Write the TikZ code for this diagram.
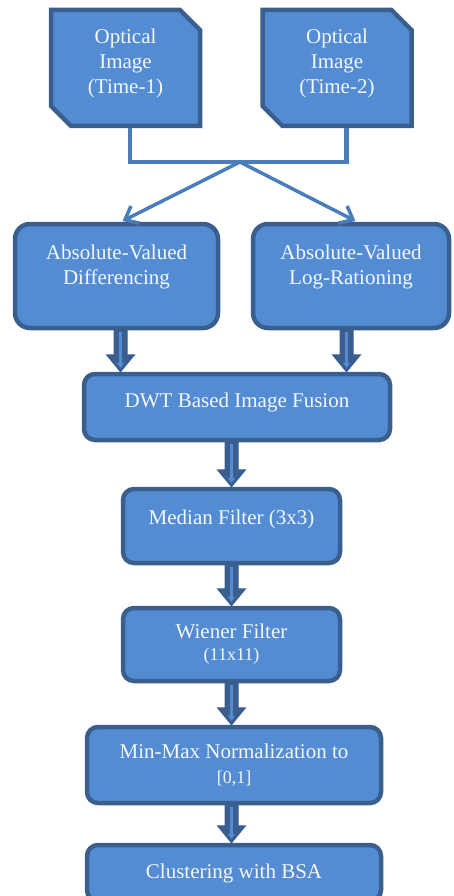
\documentclass[tikz,border=0pt]{standalone}
\usepackage{fontspec}
\setmainfont{Liberation Serif}
\usetikzlibrary{shapes.misc,arrows.meta,positioning,calc}
\definecolor{boxfill}{RGB}{83,140,211}
\definecolor{boxline}{RGB}{58,95,142}
\definecolor{linkcol}{RGB}{74,126,187}
\definecolor{txtcol}{RGB}{244,247,252}
\newcommand\subsize{\fontsize{18}{20}\selectfont}
\tikzset{
	box/.style = {
		draw=boxline,
		fill=boxfill,
		rectangle,
		line width=4.5pt,
		rounded corners=11pt,
		align=center,
		text=txtcol,
		inner sep=0pt,
		font=\fontsize{21}{25}\selectfont
	},
	optbox/.style = {
		box,
		rounded corners=0pt,
		chamfered rectangle,
		chamfered rectangle corners={north east,south west},
		chamfered rectangle xsep=10pt,
		chamfered rectangle ysep=10pt
	},
	link/.style = {
		draw=linkcol,
		line width=4.5pt
	},
	splitarrow/.style = {
		draw=linkcol,
		line width=3.5pt,
		line join=miter
	}
}
% fat arrow between two points on a vertical line: #1 start, #2 tip
\newcommand\fatarrow[2]{%
	\filldraw[boxline, line width=1pt, line join=miter]
	($(#1)+(-6.5,0)$) -- ($(#2)+(-6.5,17)$) -- ($(#2)+(-14,17)$) -- (#2)
	-- ($(#2)+(14,17)$) -- ($(#2)+(6.5,17)$) -- ($(#1)+(6.5,0)$) -- cycle;
	\draw[boxfill, line width=3.5pt, -{Triangle[length=5pt,width=7pt]}]
	($(#1)+(0,-2)$) -- ($(#2)+(0,4)$);
}
% open barbed arrow from #1 to #2
\newcommand\barbarrow[2]{%
	\draw[splitarrow] (#1) -- (#2);
	\draw[splitarrow] ($(#2)!15pt!40:(#1)$) -- (#2) -- ($(#2)!15pt!-40:(#1)$);
}

\begin{document}
\begin{tikzpicture}[x=1pt,y=1pt]
	
	\useasboundingbox (0,0) rectangle (454,-896);
	
	% --- Input images ---
	\node [optbox, minimum width=149, minimum height=116, text depth=14pt] (opt1) at (125.5,-68) {Optical\\Image\\(Time-1)};
	\node [optbox, minimum width=149, minimum height=116, text depth=14pt] (opt2) at (337,-68) {Optical\\Image\\(Time-2)};
	
	% --- Difference images ---
	\node [box, rounded corners=15pt, minimum width=203, minimum height=104, text depth=22pt] (diff) at (116.5,-276) {Absolute-Valued\\Differencing};
	\node [box, rounded corners=15pt, minimum width=196, minimum height=104, text depth=22pt] (logr) at (351,-276) {Absolute-Valued\\Log-Rationing};
	
	% --- Processing chain ---
	\node [box, minimum width=306, minimum height=66, text depth=14pt] (dwt) at (237,-407) {DWT Based Image Fusion};
	\node [box, minimum width=217, minimum height=74, text depth=17pt] (median) at (231.5,-526) {Median Filter (3x3)};
	\node [box, minimum width=217, minimum height=73] (wiener) at (231.5,-644.5) {Wiener Filter\\[-3pt]{\subsize (11x11)}};
	\node [box, minimum width=294, minimum height=76] (minmax) at (234,-765) {Min-Max Normalization to\\{\subsize [0,1]}};
	\node [box, minimum width=294, minimum height=56] (cluster) at (234,-873) {Clustering with BSA};
	
	% --- Split from both images ---
	\coordinate (split) at (240,-162);
	\coordinate (o1) at ([xshift=4.5]opt1.south);
	\coordinate (o2) at ([xshift=9.5]opt2.south);
	\coordinate (t1) at ([xshift=8.5,yshift=2]diff.north);
	\coordinate (t2) at ([xshift=2,yshift=2]logr.north);
	\draw [link] (o1) -- (o1 |- split) -- (o2 |- split) -- (o2);
	\barbarrow{split}{t1}
	\barbarrow{split}{t2}
	
	% --- Fat arrows ---
	\coordinate (d1) at ([xshift=4]diff.south);
	\coordinate (d2) at ([xshift=-4.5]logr.south);
	\fatarrow{d1}{dwt.north -| d1}
	\fatarrow{d2}{dwt.north -| d2}
	\fatarrow{dwt.south -| median.north}{median.north}
	\fatarrow{median.south}{wiener.north}
	\fatarrow{wiener.south}{minmax.north -| wiener.south}
	\fatarrow{minmax.south -| wiener.south}{cluster.north -| wiener.south}
	
\end{tikzpicture}
\end{document}
